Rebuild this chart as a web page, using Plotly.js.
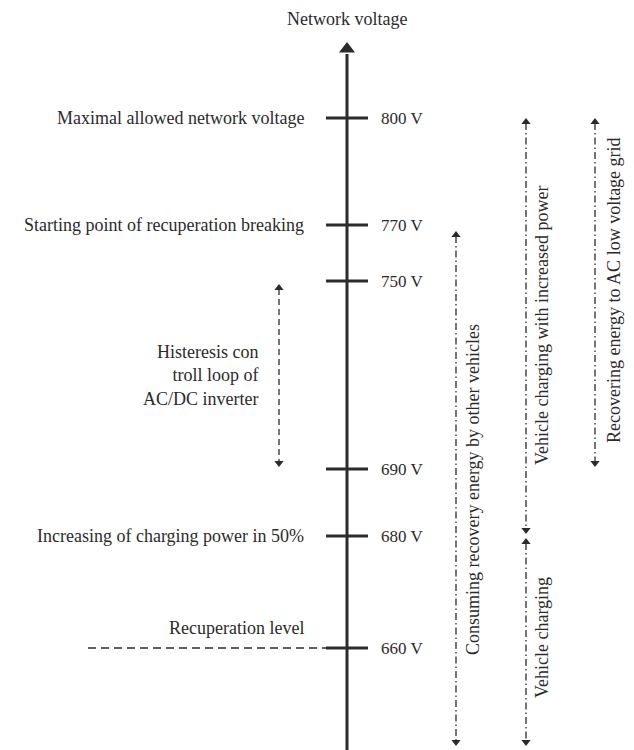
<!DOCTYPE html>
<html>
<head>
<meta charset="utf-8">
<script src="https://cdn.plot.ly/plotly-3.0.1.min.js"></script>
<style>html,body{margin:0;padding:0;background:#fff;}#chart{width:634px;height:750px;}</style>
</head>
<body>
<div id="chart"></div>
<script>
// ---- data (schematic diagram of network voltage levels) ----
const axisTitle = 'Network voltage';
const voltages = [800, 770, 750, 690, 680, 660];
const voltageLabels = voltages.map(v => v + ' V');
// schematic position of each voltage level along the diagram axis (top = small)
const levelPos = [118, 225, 281, 469, 536, 648];
const levelDescriptions = [
  'Maximal allowed network voltage',
  'Starting point of recuperation breaking',
  '',
  '',
  'Increasing of charging power in 50%',
  'Recuperation level'
];
// voltage ranges drawn as double arrows
const rangeLabels = [
  'Histeresis con<br>troll loop of<br>AC/DC inverter',
  'Consuming recovery energy by other vehicles',
  'Vehicle charging with increased power',
  'Vehicle charging',
  'Recovering energy to AC low voltage grid'
];
const rangeTop = [283, 230, 117, 537, 117];
const rangeBottom = [468, 747, 535, 747, 468];

// ---- layout constants ----
const FONT = 'Liberation Serif, Times New Roman, serif';
const FS = 18;
const TXT = '#2b2b2b';
const AX_X = 347;
const rangeX = [279, 456, 526, 526, 595];
const DD = '7px,3px,1.5px,3px';
const rangeDash = ['6px,4px', DD, DD, DD, DD];

const traces = [];
// main axis
traces.push({x: [AX_X, AX_X], y: [54, 752], mode: 'lines', line: {color: '#2b2b2b', width: 3}, hoverinfo: 'skip'});
traces.push({x: [AX_X], y: [49], mode: 'markers', marker: {symbol: 'triangle-up', size: 14, color: '#2b2b2b'}, hoverinfo: 'skip'});
// ticks
const tx = [], ty = [];
levelPos.forEach(p => { tx.push(326, 368, null); ty.push(p, p, null); });
traces.push({x: tx, y: ty, mode: 'lines', line: {color: '#2b2b2b', width: 3}, hoverinfo: 'skip'});
// recuperation level dashed line
const recIdx = voltages.indexOf(660);
traces.push({x: [88, 326], y: [levelPos[recIdx], levelPos[recIdx]], mode: 'lines', line: {color: '#2b2b2b', width: 1.3, dash: '8px,5px'}, hoverinfo: 'skip'});
// range arrows
rangeLabels.forEach((l, i) => {
  traces.push({x: [rangeX[i], rangeX[i]], y: [rangeTop[i] + 6, rangeBottom[i] - 6], mode: 'lines',
    line: {color: '#2b2b2b', width: 1.3, dash: rangeDash[i]}, hoverinfo: 'skip'});
  traces.push({x: [rangeX[i]], y: [rangeTop[i] + 5], mode: 'markers', marker: {symbol: 'triangle-up', size: 8, color: '#2b2b2b'}, hoverinfo: 'skip'});
  traces.push({x: [rangeX[i]], y: [rangeBottom[i] - 5], mode: 'markers', marker: {symbol: 'triangle-down', size: 8, color: '#2b2b2b'}, hoverinfo: 'skip'});
});

const ann = [];
ann.push({x: AX_X, y: 19, text: axisTitle, showarrow: false, xanchor: 'center', yanchor: 'middle', font: {family: FONT, size: FS, color: TXT}});
voltageLabels.forEach((l, i) => {
  ann.push({x: 379, y: levelPos[i], text: l, showarrow: false, xanchor: 'left', yanchor: 'middle', font: {family: FONT, size: 17, color: TXT}});
  if (levelDescriptions[i]) {
    const isRec = voltages[i] === 660;
    ann.push({x: 306, y: isRec ? levelPos[i] - 20 : levelPos[i], text: levelDescriptions[i], showarrow: false,
      xanchor: 'right', yanchor: 'middle', font: {family: FONT, size: FS, color: TXT}});
  }
});
// histeresis label (horizontal)
ann.push({x: 260, y: 375, text: rangeLabels[0], showarrow: false, xanchor: 'right', yanchor: 'middle', align: 'right',
  font: {family: FONT, size: FS, color: TXT}});
// rotated labels
const rotX = [null, 473, 542, 542, 614];
const rotY = [null, 490, 325, 638, 290];
for (let i = 1; i < rangeLabels.length; i++) {
  ann.push({x: rotX[i], y: rotY[i], text: rangeLabels[i], showarrow: false, textangle: -90, xanchor: 'center', yanchor: 'middle',
    font: {family: FONT, size: FS, color: TXT}});
}

const layout = {
  width: 634, height: 750,
  margin: {l: 0, r: 0, t: 0, b: 0},
  paper_bgcolor: '#fff', plot_bgcolor: '#fff',
  showlegend: false,
  xaxis: {range: [0, 634], visible: false, fixedrange: true},
  yaxis: {range: [750, 0], visible: false, fixedrange: true},
  annotations: ann
};
Plotly.newPlot('chart', traces, layout, {staticPlot: true, displayModeBar: false});
</script>
</body>
</html>
